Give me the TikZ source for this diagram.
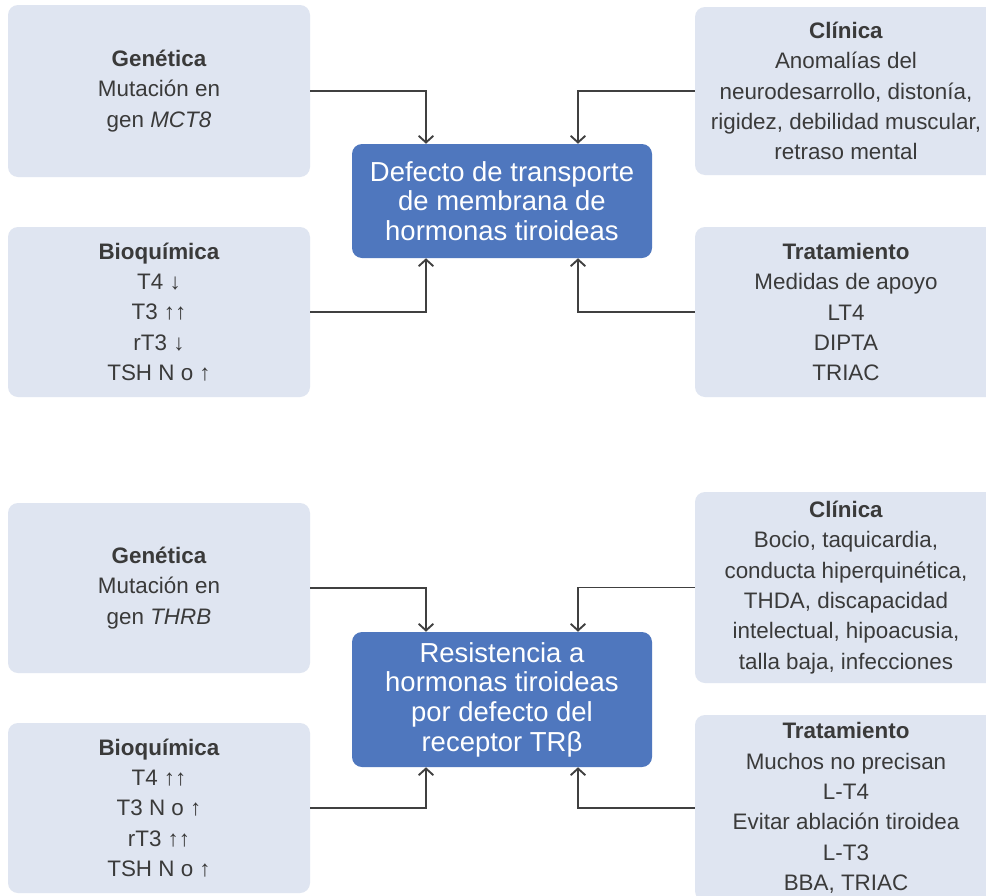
\documentclass[tikz,border=0pt]{standalone}
\usepackage{fontspec}
\setmainfont{Liberation Sans}
\usetikzlibrary{arrows.meta}
\definecolor{cajafondo}{HTML}{DFE5F1}
\definecolor{cajaazul}{HTML}{4F77BE}
\definecolor{texto}{HTML}{3A3A3A}
\definecolor{linea}{HTML}{404040}
\tikzset{
  caja/.style={fill=cajafondo, rounded corners=7.5pt, inner sep=0pt,
    minimum width=226.5pt, align=center, text=texto,
    font=\fontsize{16.8}{22.8}\selectfont},
  central/.style={fill=cajaazul, rounded corners=7.5pt, inner sep=0pt,
    minimum width=225pt, align=center, text=white,
    font=\fontsize{20.6}{22.2}\selectfont},
  flecha/.style={draw=linea, line width=1.4pt,
    -{Straight Barb[length=5pt,width=11pt,line width=1.4pt]}}
}
\begin{document}
\begin{tikzpicture}[x=0.75pt,y=0.75pt]
\clip (0,0) rectangle (986,-896);
\fill[white] (0,0) rectangle (986,-896);
% Upper figure: MCT8
\node[central, minimum height=85.5pt] (def1) at (502,-201)
  {Defecto de transporte\\de membrana de\\hormonas tiroideas};
\node[caja, minimum height=129pt] (gen1) at (159,-91)
  {\textbf{Genética}\\Mutación en\\gen \textit{MCT8}};
\node[caja, minimum height=127.5pt] (bio1) at (159,-312)
  {\textbf{Bioquímica}\\T4 ↓\\T3 ↑↑\\rT3 ↓\\TSH N o ↑};
\node[caja, minimum height=126pt] (cli1) at (846,-91)
  {\textbf{Clínica}\\Anomalías del\\neurodesarrollo, distonía,\\rigidez, debilidad muscular,\\retraso mental};
\node[caja, minimum height=127.5pt] (tra1) at (846,-312)
  {\textbf{Tratamiento}\\Medidas de apoyo\\LT4\\DIPTA\\TRIAC};
\draw[flecha] (gen1.east) -| ([xshift=-57pt]def1.north);
\draw[flecha] (bio1.east) -| ([xshift=-57pt]def1.south);
\draw[flecha] (cli1.west) -| ([xshift=57pt]def1.north);
\draw[flecha] (tra1.west) -| ([xshift=57pt]def1.south);
% Lower figure: THRB
\node[central, minimum height=101.25pt] (res2) at (502,-699.5)
  {Resistencia a\\hormonas tiroideas\\por defecto del\\receptor TRβ};
\node[caja, minimum height=127.5pt] (gen2) at (159,-588)
  {\textbf{Genética}\\Mutación en\\gen \textit{THRB}};
\node[caja, minimum height=127.5pt] (bio2) at (159,-808)
  {\textbf{Bioquímica}\\T4 ↑↑\\T3 N o ↑\\rT3 ↑↑\\TSH N o ↑};
\node[caja, minimum height=143.25pt] (cli2) at (846,-587.5)
  {\textbf{Clínica}\\Bocio, taquicardia,\\conducta hiperquinética,\\THDA, discapacidad\\intelectual, hipoacusia,\\talla baja, infecciones};
\node[caja, minimum height=139.5pt] (tra2) at (846,-808)
  {\textbf{Tratamiento}\\Muchos no precisan\\L-T4\\Evitar ablación tiroidea\\L-T3\\BBA, TRIAC};
\draw[flecha] (gen2.east) -| ([xshift=-57pt]res2.north);
\draw[flecha] (bio2.east) -| ([xshift=-57pt]res2.south);
\draw[flecha] (cli2.west) -| ([xshift=57pt]res2.north);
\draw[flecha] (tra2.west) -| ([xshift=57pt]res2.south);
\end{tikzpicture}
\end{document}
